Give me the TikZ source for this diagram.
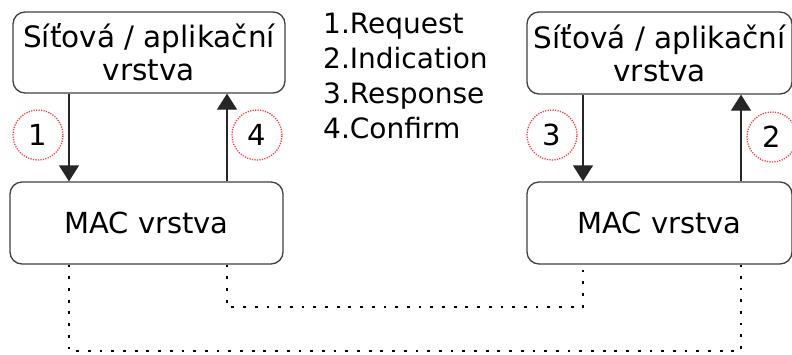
\documentclass[tikz,border=0pt]{standalone}
\usepackage{fontspec}
\setmainfont{DejaVu Sans}
\usepackage{tikz}
\usetikzlibrary{arrows.meta,positioning}
\tikzset{
 >={Triangle[width=20pt,length=16pt]},
 layer/.style={draw=black!75,line width=1.3pt,rounded corners=12pt,
   inner sep=0pt,align=center,font=\fontsize{29.5}{33}\selectfont},
 num/.style={circle,draw=red!80,line width=1.3pt,dash pattern=on 1.2pt off 1.3pt,
   minimum size=50pt,inner sep=0pt,font=\fontsize{29}{33}\selectfont},
 prim/.style={->,line width=1.3pt,color=black!85},
 link/.style={line width=2.8pt,dash pattern=on 2.8pt off 8.9pt}
}
\begin{document}
\begin{tikzpicture}[x=1pt,y=-1pt]
\useasboundingbox (0,0) rectangle (792,354);

% station A
\path (149,52.5) node[layer,name=net1,minimum width=272pt,minimum height=81pt] {Síťová / aplikační\\vrstva};
\path (146.5,223) node[layer,name=mac1,minimum width=273pt,minimum height=82pt,
  font=\fontsize{29}{33}\selectfont] {MAC vrstva};
% station B
\path (659.5,53) node[layer,name=net2,minimum width=265pt,minimum height=82pt] {Síťová / aplikační\\vrstva};
\path (659.5,223) node[layer,name=mac2,minimum width=265pt,minimum height=82pt,
  font=\fontsize{29}{33}\selectfont] {MAC vrstva};

\path (323,13) node[anchor=north west,inner sep=0pt,align=left,
  font=\fontsize{28}{35}\selectfont,name=legend]
  {1.Request\\2.Indication\\3.Response\\4.Confirm};

\path (38,135) node[num,name=c1] {1};
\path (257,135) node[num,name=c4] {4};
\path (552,135) node[num,name=c3] {3};
\path (772,137) node[num,name=c2] {2};

\coordinate (a1) at (69,0);
\coordinate (a4) at (227,0);
\coordinate (a3) at (583,0);
\coordinate (a2) at (741,0);
\coordinate (low) at (0,307);
\coordinate (lower) at (0,351);

\path[prim] (net1.south -| a1) edge (mac1.north -| a1);
\path[prim] (mac1.north -| a4) edge (net1.south -| a4);
\path[prim] (net2.south -| a3) edge (mac2.north -| a3);
\path[prim] (mac2.north -| a2) edge (net2.south -| a2);

\draw[link] (mac1.south -| a4) -- (low -| a4) -- (low -| a3) -- (mac2.south -| a3);
\draw[link] (mac1.south -| a1) -- (lower -| a1) -- (lower -| a2) -- (mac2.south -| a2);

\end{tikzpicture}
\end{document}
